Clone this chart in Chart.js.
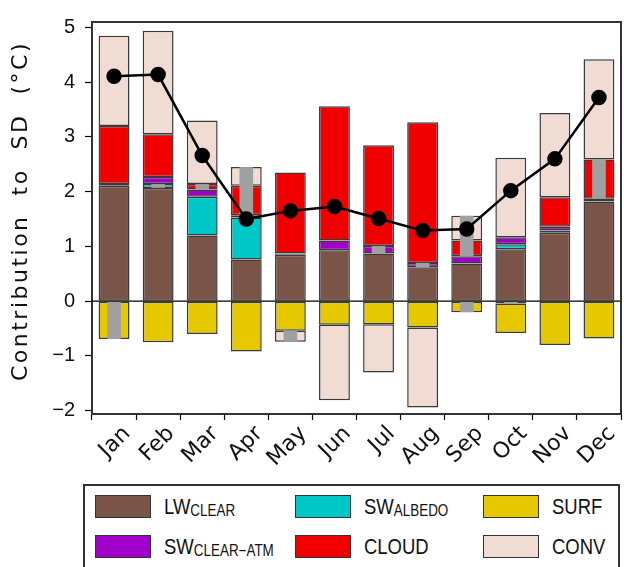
<!DOCTYPE html>
<html>
<head>
<meta charset="utf-8">
<script src="https://cdn.jsdelivr.net/npm/chart.js@4.4.1/dist/chart.umd.min.js"></script>
<style>
    html, body { margin: 0; padding: 0; background: #fff; overflow: hidden; }
    #wrap { position: relative; width: 624px; height: 567px; overflow: hidden; }
    #chart { position: absolute; left: 0; top: 0; }
    #legend {
        position: absolute; left: 83px; top: 484px; width: 537px; height: 100px;
        border: 2px solid #333; box-sizing: border-box;
        font-family: "Liberation Sans", Arial, sans-serif; color: #111;
    }
    .sw { position: absolute; width: 56px; height: 23px; border: 1.5px solid #333; box-sizing: border-box; }
    .lb {
        position: absolute; font-size: 22px; line-height: 22px; white-space: nowrap;
        transform: scaleX(0.84); transform-origin: left center;
    }
    .lb sub { font-size: 16px; vertical-align: -2px; }
</style>
</head>
<body>
<div id="wrap">
    <canvas id="chart" width="630" height="470"></canvas>
    <div id="legend"></div>
</div>
<script>
const months = ["Jan", "Feb", "Mar", "Apr", "May", "Jun", "Jul", "Aug", "Sep", "Oct", "Nov", "Dec"];

// contributions (°C), one value per month
const lwClear    = [2.11, 2.07, 1.20, 0.76, 0.85, 0.93, 0.87, 0.62, 0.69, 0.95, 1.25, 1.82];
const swAlbedo   = [null, 0.07, 0.71, 0.77, null, null, null, null, null, 0.09, 0.04, null];
const swClearAtm = [0.03, 0.13, 0.13, 0.04, 0.02, 0.18, 0.14, 0.08, 0.13, 0.13, 0.07, 0.05];
const cloud      = [1.06, 0.78, 0.10, 0.54, 1.48, 2.45, 1.84, 2.57, 0.29, -0.04, 0.54, 0.72];
const surf       = [-0.69, -0.75, -0.60, -0.92, -0.54, -0.43, -0.42, -0.48, -0.20, -0.54, -0.80, -0.68];
const conv       = [1.65, 1.89, 1.16, 0.34, -0.20, -1.38, -0.88, -1.46, 0.45, 1.45, 1.54, 1.83];
const totalSD    = [4.11, 4.14, 2.66, 1.50, 1.65, 1.73, 1.51, 1.29, 1.32, 2.02, 2.60, 3.72];

// grey overlap ranges [low, high]
const overlapUpper = [null, [2.07, 2.14], [2.04, 2.14], [1.55, 2.45], null, null, [0.87, 1.01], [0.62, 0.70], [0.82, 1.56], null, null, [1.87, 2.59]];
const overlapLower = [[-0.69, 0], null, null, null, [-0.74, -0.54], null, null, null, [-0.20, 0], [-0.04, 0], null, null];

const yTicks = [-2, -1, 0, 1, 2, 3, 4, 5];
const yTitle = "Contribution  to  SD  (°C)";

const colors = {
    lw: "rgb(122,84,72)",
    alb: "rgb(0,200,200)",
    atm: "rgb(160,0,200)",
    cloud: "rgb(240,0,0)",
    surf: "rgb(230,200,0)",
    conv: "rgb(240,220,210)",
    grey: "rgb(160,160,160)"
};

const barSet = (label, data, color) => ({
    type: "bar",
    label,
    data,
    stack: "main",
    backgroundColor: color,
    borderColor: "#3a3a3a",
    borderWidth: 1.5,
    borderSkipped: false,
    barPercentage: 0.7,
    categoryPercentage: 1,
    order: 2
});

const greySet = (data, stack) => ({
    type: "bar",
    data,
    stack,
    grouped: false,
    backgroundColor: colors.grey,
    borderWidth: 0,
    barPercentage: 0.31,
    categoryPercentage: 1,
    order: 1
});

// frame on top, zero line, spaced-out y title
const framePlugin = {
    id: "frame",
    afterDatasetsDraw(chart) {
        const { ctx, chartArea: a, scales } = chart;
        ctx.save();
        ctx.strokeStyle = "#000";
        ctx.lineWidth = 1.2;
        const y0 = scales.y.getPixelForValue(0);
        ctx.beginPath();
        ctx.moveTo(a.left, y0);
        ctx.lineTo(a.right, y0);
        ctx.stroke();
        ctx.strokeStyle = "#333";
        ctx.lineWidth = 2;
        ctx.beginPath();
        ctx.moveTo(a.left, a.top);
        ctx.lineTo(a.right, a.top);
        ctx.lineTo(a.right, a.bottom);
        ctx.stroke();
        ctx.restore();
    },
    afterDraw(chart) {
        const { ctx, chartArea: a } = chart;
        ctx.save();
        ctx.font = "22px 'DejaVu Sans'";
        ctx.letterSpacing = "2.5px";
        ctx.fillStyle = "#111";
        ctx.textAlign = "center";
        ctx.textBaseline = "middle";
        ctx.translate(21, (a.top + a.bottom) / 2 - 7);
        ctx.rotate(-Math.PI / 2);
        ctx.fillText(yTitle, 0, 0);
        ctx.restore();
    }
};

new Chart(document.getElementById("chart").getContext("2d"), {
    data: {
        labels: months,
        datasets: [
            {
                type: "line",
                data: totalSD,
                borderColor: "#000",
                borderWidth: 2.5,
                pointRadius: 6.5,
                pointBackgroundColor: "#000",
                pointBorderColor: "#000",
                order: 0
            },
            greySet(overlapUpper, "g1"),
            greySet(overlapLower, "g2"),
            barSet("LW_CLEAR", lwClear, colors.lw),
            barSet("SW_ALBEDO", swAlbedo, colors.alb),
            barSet("SW_CLEAR-ATM", swClearAtm, colors.atm),
            barSet("CLOUD", cloud, colors.cloud),
            barSet("SURF", surf, colors.surf),
            barSet("CONV", conv, colors.conv)
        ]
    },
    options: {
        responsive: false,
        animation: false,
        layout: { padding: { top: 13, left: 0, right: 4, bottom: 0 } },
        plugins: { legend: { display: false }, tooltip: { enabled: false } },
        scales: {
            x: {
                stacked: true,
                offset: true,
                border: { display: true, color: "#333", width: 2 },
                grid: { drawOnChartArea: false, tickLength: 6, color: "#000", tickWidth: 1.2 },
                ticks: {
                    minRotation: 45, maxRotation: 45, padding: 1,
                    labelOffset: 13,
                    color: "#111",
                    font: { family: "DejaVu Sans", size: 22 }
                },
                afterFit(scale) { scale.height = 56; }
            },
            y: {
                stacked: true,
                min: -2.06,
                max: 5.1,
                afterBuildTicks(scale) { scale.ticks = yTicks.map(v => ({ value: v })); },
                border: { display: true, color: "#333", width: 2 },
                grid: { drawOnChartArea: false, tickLength: 7, color: "#000", tickWidth: 1.2 },
                ticks: {
                    padding: 10,
                    color: "#111",
                    font: { family: "Liberation Sans", size: 20 },
                    callback: v => v < 0 ? "\u2212" + Math.abs(v) : String(v)
                },
                afterFit(scale) { scale.width = 92; }
            }
        }
    },
    plugins: [framePlugin]
});

// legend with subscripts
const legendItems = [
    { color: colors.lw, main: "LW", sub: "CLEAR", x: 10, y: 9 },
    { color: colors.alb, main: "SW", sub: "ALBEDO", x: 210, y: 9 },
    { color: colors.surf, main: "SURF", sub: "", x: 398, y: 9 },
    { color: colors.atm, main: "SW", sub: "CLEAR\u2212ATM", x: 10, y: 49 },
    { color: colors.cloud, main: "CLOUD", sub: "", x: 210, y: 49 },
    { color: colors.conv, main: "CONV", sub: "", x: 398, y: 49 }
];
const legend = document.getElementById("legend");
legendItems.forEach(item => {
    const sw = document.createElement("div");
    sw.className = "sw";
    sw.style.left = item.x + "px";
    sw.style.top = item.y + "px";
    sw.style.background = item.color;
    legend.appendChild(sw);
    const lb = document.createElement("div");
    lb.className = "lb";
    lb.style.left = (item.x + 69) + "px";
    lb.style.top = (item.y + 1) + "px";
    lb.innerHTML = item.main + (item.sub ? "<sub>" + item.sub + "</sub>" : "");
    legend.appendChild(lb);
});
</script>
</body>
</html>
